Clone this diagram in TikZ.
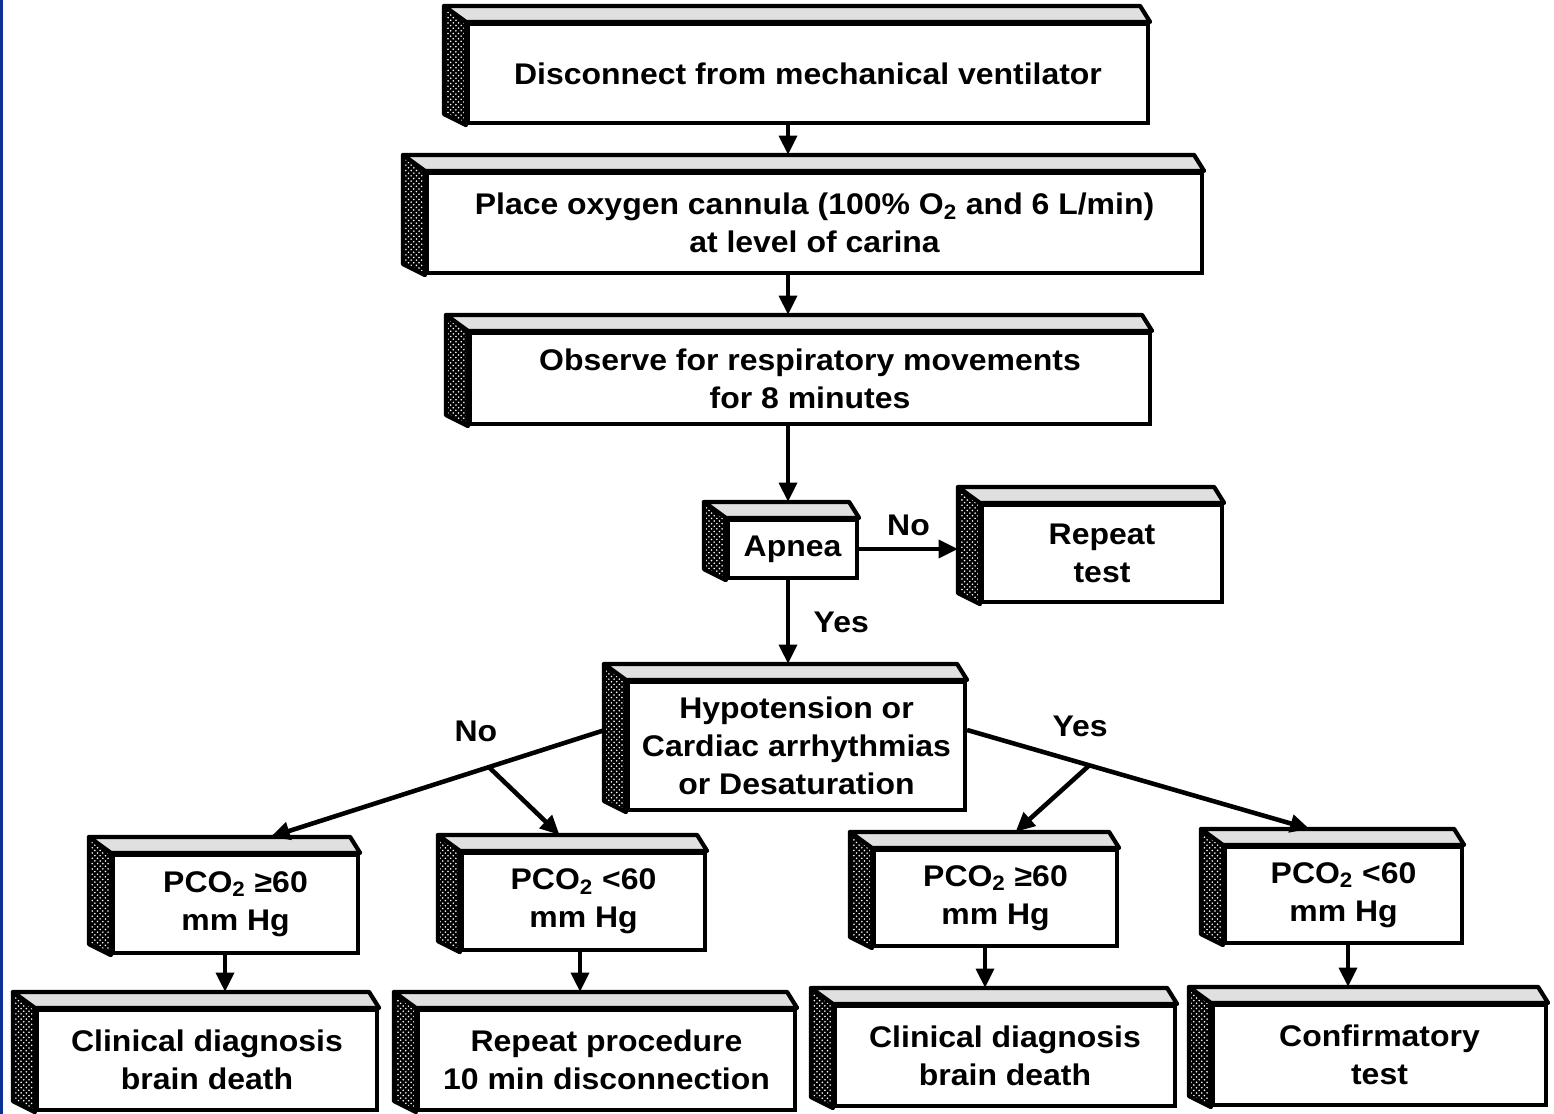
\documentclass[tikz,border=0pt]{standalone}
\usepackage{fontspec}
\setmainfont[FakeStretch=1.07]{Liberation Sans}
\usetikzlibrary{arrows.meta, calc, patterns}

\definecolor{edgeblue}{RGB}{12,48,150}

% side and top faces of a box
\newcommand{\slab}[1]{%
  \draw[sideface] (#1.north west) -- ++(-22,-16) -- ($(#1.south west)+(-22,-11)$) -- (#1.south west) -- cycle;
  \draw[topface] ($(#1.north west)+(-22,-16)$) -- ($(#1.north east)+(-10,-16)$) -- (#1.north east) -- (#1.north west) -- cycle;
}

\begin{document}
\begin{tikzpicture}[x=0.02cm, y=-0.02cm, >={Triangle[length=11pt,width=10pt]},
  card/.style={draw, line width=2.4pt, fill=white, align=center, inner sep=0pt,
    font=\bfseries\fontsize{17}{21.5}\selectfont},
  sideface/.style={line width=2.4pt, line join=round, preaction={fill=black},
    pattern=crosshatch dots, pattern color=white, draw=black},
  topface/.style={draw, line width=2.4pt, line join=round, fill=black!12},
  link/.style={->, line width=2.6pt},
  tag/.style={font=\bfseries\fontsize{17}{21.5}\selectfont}]

\useasboundingbox (0,0) rectangle (1554,1114);
\fill[edgeblue] (0,0) rectangle (3,1114);

% define the boxes
\node[card, minimum width=13.6cm, minimum height=1.98cm] (disc) at (808,73.5)
  {Disconnect from mechanical ventilator};
\node[card, minimum width=15.5cm, minimum height=2cm] (cann) at (814.5,223)
  {Place oxygen cannula (100\% O\textsubscript{2} and 6 L/min)\\at level of carina};
\node[card, minimum width=13.6cm, minimum height=1.82cm] (obs) at (810,378.5)
  {Observe for respiratory movements\\for 8 minutes};
\node[card, minimum width=2.58cm, minimum height=1.16cm] (apnea) at (792.5,549)
  {Apnea};
\node[card, minimum width=4.8cm, minimum height=1.94cm] (again) at (1102,553.5)
  {Repeat\\test};
\node[card, minimum width=6.74cm, minimum height=2.56cm] (hyp) at (796.5,746)
  {Hypotension or\\Cardiac arrhythmias\\or Desaturation};
\node[card, minimum width=4.9cm, minimum height=1.96cm] (hiL) at (235.5,904)
  {PCO\textsubscript{2} ≥60\\mm Hg};
\node[card, minimum width=4.86cm, minimum height=1.94cm] (loL) at (583.5,901.5)
  {PCO\textsubscript{2} <60\\mm Hg};
\node[card, minimum width=4.86cm, minimum height=1.92cm] (hiR) at (995.5,898)
  {PCO\textsubscript{2} ≥60\\mm Hg};
\node[card, minimum width=4.74cm, minimum height=1.92cm] (loR) at (1343.5,895)
  {PCO\textsubscript{2} <60\\mm Hg};
\node[card, minimum width=6.8cm, minimum height=2cm] (diagL) at (207,1060)
  {Clinical diagnosis\\brain death};
\node[card, minimum width=7.54cm, minimum height=2cm] (redo) at (606.5,1060)
  {Repeat procedure\\10 min disconnection};
\node[card, minimum width=6.8cm, minimum height=2cm] (diagR) at (1005,1056)
  {Clinical diagnosis\\brain death};
\node[card, minimum width=6.66cm, minimum height=2cm] (confirm) at (1379.5,1055)
  {Confirmatory\\test};

\foreach \b in {disc,cann,obs,apnea,again,hyp,hiL,loL,hiR,loR,diagL,redo,diagR,confirm}
  {\slab{\b}}

% define the links
\coordinate (spine) at (788,0);
\coordinate (dropA) at (225,0);
\coordinate (dropB) at (580,0);
\coordinate (dropC) at (985,0);
\coordinate (dropD) at (1348,0);

\draw[link] (disc.south -| spine) -- ($(cann.north -| spine)+(0,-16)$);
\draw[link] (cann.south -| spine) -- ($(obs.north -| spine)+(0,-16)$);
\draw[link] (obs.south -| spine) -- ($(apnea.north -| spine)+(0,-16)$);
\draw[link] (apnea.east) -- node[tag, above=3pt] {No} ($(again.west |- apnea.east)+(-22,0)$);
\draw[link] (apnea.south -| spine) -- node[tag, right=10pt] {Yes} ($(hyp.north -| spine)+(0,-16)$);

\draw[link] ($(hyp.west)+(-21,-16)$) -- coordinate[pos=0.347] (nofork)
  node[tag, pos=0.386, above=12pt] {No} ($(hiL.north)+(35,-16)$);
\draw[link] (nofork) -- ($(loL.north)+(-24,-16)$);
\draw[link] ($(hyp.east)+(0,-16)$) -- coordinate[pos=0.357] (yesfork)
  node[tag, pos=0.33, above=10pt] {Yes} ($(loR.north)+(-34,-16)$);
\draw[link] (yesfork) -- ($(hiR.north)+(20,-16)$);

\draw[link] (hiL.south -| dropA) -- ($(diagL.north -| dropA)+(0,-16)$);
\draw[link] (loL.south -| dropB) -- ($(redo.north -| dropB)+(0,-16)$);
\draw[link] (hiR.south -| dropC) -- ($(diagR.north -| dropC)+(0,-16)$);
\draw[link] (loR.south -| dropD) -- ($(confirm.north -| dropD)+(0,-16)$);

\end{tikzpicture}
\end{document}
